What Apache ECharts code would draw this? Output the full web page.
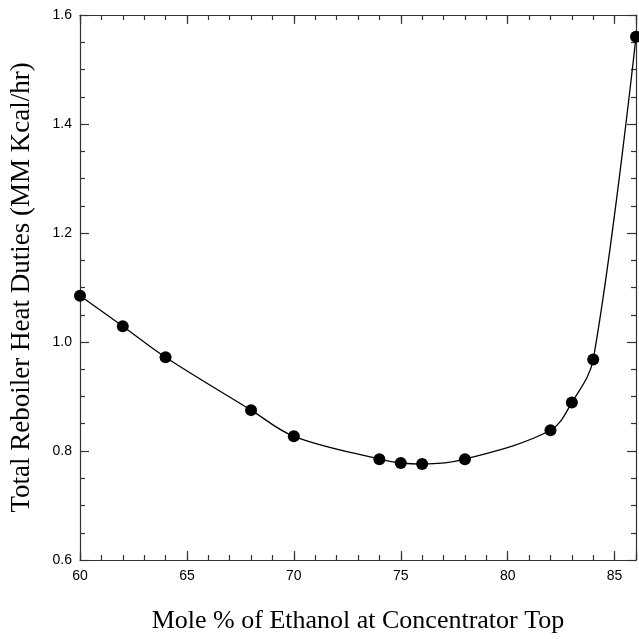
<!DOCTYPE html>
<html lang="en">

<head>
    <meta charset="UTF-8">
    <script src="https://cdnjs.cloudflare.com/ajax/libs/echarts/6.0.0/echarts.min.js"></script>
    <title>Reboiler Heat Duties</title>
    <style>
        body { margin: 0; background: #fff; }
    </style>
</head>

<body>
    <div id="main" style="width: 639px;height:639px;"></div>
</body>
<script>
    // mole % ethanol at concentrator top
    var molePct = [60, 62, 64, 68, 70, 74, 75, 76, 78, 82, 83, 84, 86];
    // total reboiler heat duty (MM Kcal/hr)
    var heatDuty = [1.085, 1.029, 0.972, 0.875, 0.827, 0.785, 0.778, 0.776, 0.785, 0.838, 0.889, 0.968, 1.56];

    var xMin = 60, xMax = 86, xMajor = 5, xMinor = 1;
    var yMin = 0.6, yMax = 1.6, yMajor = 0.2;

    var myChart = echarts.init(document.getElementById('main'));

    var labelFont = { color: '#000', fontFamily: 'Liberation Sans, Arial, sans-serif', fontSize: 14 };
    var xTitleFont = { color: '#000', fontFamily: 'Liberation Serif, Times New Roman, serif', fontSize: 26 };
    var yTitleFont = { color: '#000', fontFamily: 'Liberation Serif, Times New Roman, serif', fontSize: 27 };
    var lineStyle = { color: '#333', width: 1.2 };

    // two axes per side: long ticks every 5 with labels, short ticks every 1
    function xAx(pos, step, len, main) {
        return {
            type: 'value', position: pos, min: xMin, max: xMax, interval: step,
            axisLine: { show: main, lineStyle: lineStyle },
            axisTick: { show: true, inside: true, length: len, lineStyle: lineStyle },
            axisLabel: {
                show: main && pos === 'bottom', margin: 9, textStyle: labelFont,
                formatter: function (v) { return v % 5 === 0 ? v : ''; }
            },
            splitLine: { show: false },
            name: main && pos === 'bottom' ? 'Mole % of Ethanol at Concentrator Top' : '',
            nameLocation: 'middle', nameGap: 48, nameTextStyle: xTitleFont
        };
    }

    function yAx(pos, main) {
        return {
            type: 'value', position: pos, min: yMin, max: yMax, interval: yMajor,
            axisLine: { show: true, lineStyle: lineStyle },
            axisTick: { show: true, inside: true, length: 9, lineStyle: lineStyle },
            minorTick: { show: true, splitNumber: 4, length: 5, lineStyle: lineStyle },
            axisLabel: {
                show: main, margin: 8, textStyle: labelFont,
                formatter: function (v) { return v.toFixed(1); }
            },
            splitLine: { show: false },
            name: main ? 'Total Reboiler Heat Duties (MM Kcal/hr)' : '',
            nameLocation: 'middle', nameGap: 45, nameTextStyle: yTitleFont
        };
    }

    var option = {
        animation: false,
        backgroundColor: '#fff',
        grid: { left: 80, right: 3, top: 15, bottom: 78 },
        xAxis: [
            xAx('bottom', xMajor, 9, true),
            xAx('bottom', xMinor, 5, false),
            xAx('top', xMajor, 9, true),
            xAx('top', xMinor, 5, false)
        ],
        yAxis: [yAx('left', true), yAx('right', false)],
        series: [
            {
                type: 'line',
                data: molePct.map(function (x, i) { return [x, heatDuty[i]]; }),
                smooth: 0.35,
                clip: false,
                symbol: 'circle',
                symbolSize: 12,
                itemStyle: { color: '#000' },
                lineStyle: { color: '#000', width: 1.3 }
            }
        ]
    };
    myChart.setOption(option);
</script>

</html>
